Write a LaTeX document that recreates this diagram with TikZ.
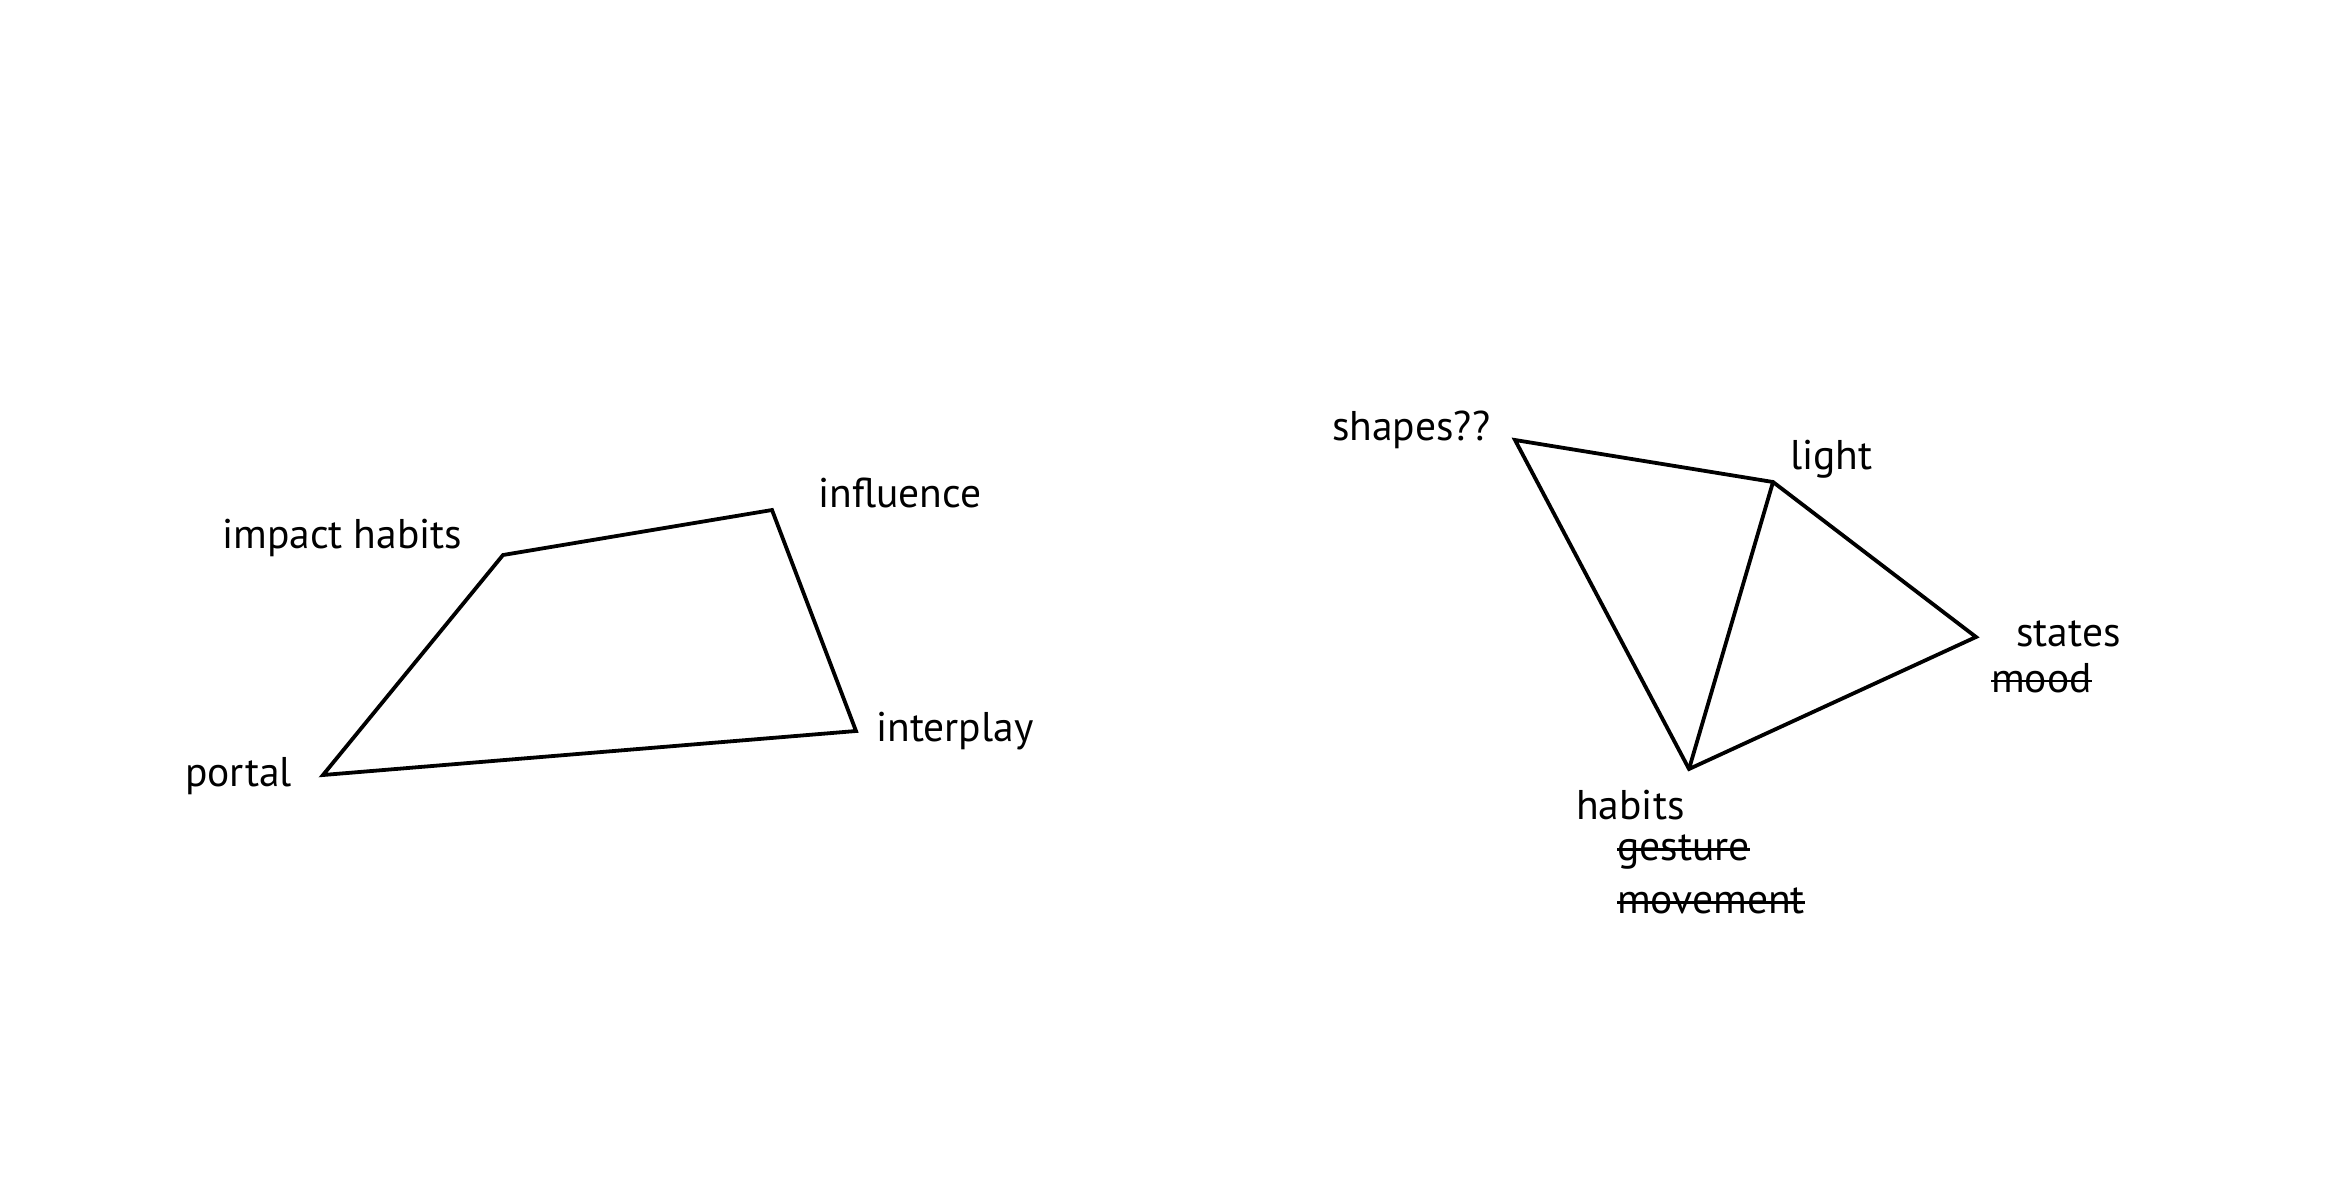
\documentclass[tikz,border=0pt]{standalone}
\usepackage{fontspec}
\setmainfont{PT Sans}
\begin{document}
\begin{tikzpicture}[x=1pt,y=-1pt,
  edge/.style={draw=black,line width=3.8pt,line join=miter},
  lbl/.style={inner sep=0pt,font=\fontsize{41.5}{50}\selectfont,anchor=west},
  strike/.style={draw=black,line width=2.4pt}]
\useasboundingbox[fill=white] (0,0) rectangle (2333,1200);
% left quadrilateral
\coordinate (ih) at (503,555);
\coordinate (inf) at (772,510);
\coordinate (ip) at (856,731);
\coordinate (po) at (323,775);
\draw[edge] (ih) -- (inf) -- (ip) -- (po) -- cycle;
\node[lbl] (tih) at (222,538) {impact habits};
\node[lbl] (tinf) at (818,493) {influence};
\node[lbl] (tip) at (876,731) {interplay};
\node[lbl] (tpo) at (185,776) {portal};
% right figure
\coordinate (sh) at (1515,440);
\coordinate (li) at (1773,482);
\coordinate (st) at (1976,637);
\coordinate (ha) at (1689,769);
\draw[edge] (sh) -- (li) -- (st) -- (ha) -- cycle;
\draw[edge] (li) -- (ha);
\node[lbl] (tsh) at (1332,430) {shapes??};
\node[lbl] (tli) at (1790,459) {light};
\node[lbl] (tst) at (2016,634) {states};
\node[lbl] (tmo) at (1991,678) {mood};
\node[lbl] (tha) at (1576,805) {habits};
\node[lbl] (tge) at (1617,852) {gesture};
\node[lbl] (tmv) at (1617,901) {movement};
\foreach \n in {tmo,tge,tmv}
  \draw[strike] ([yshift=11pt]\n.base west) -- ([yshift=11pt]\n.base east);
\end{tikzpicture}
\end{document}
